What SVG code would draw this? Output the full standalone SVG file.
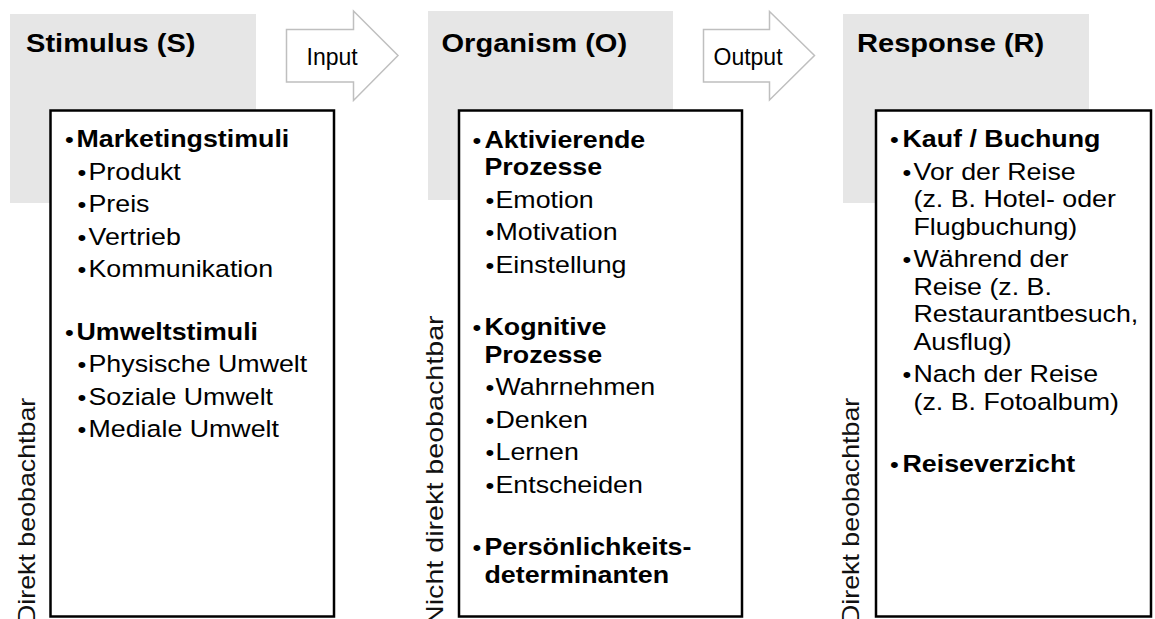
<svg xmlns="http://www.w3.org/2000/svg" width="1155" height="619" viewBox="0 0 1155 619">
<style>
text{font-family:"Liberation Sans",Arial,sans-serif;fill:#000}
.t{font-size:25.5px;font-weight:bold}
.b{font-size:23.5px;font-weight:bold}
.r{font-size:23.5px}
.p{font-size:22px}
.a{font-size:23px}
.v{font-size:23.5px;fill:#111}
.gray{fill:#e6e6e6}
.box{fill:#fff;stroke:#000;stroke-width:2.5}
.arrow{fill:#fff;stroke:#bfbfbf;stroke-width:1.5}
</style>
<rect width="1155" height="619" fill="#fff"/>

<g id="connectors">
  <g id="input-arrow">
    <polygon class="arrow" points="286.5,29.5 353.5,29.5 353.5,11 398,55.5 353.5,100.5 353.5,82 286.5,82"/>
    <text class="a" x="306.5" y="65">Input</text>
  </g>
  <g id="output-arrow">
    <polygon class="arrow" points="703.5,29.5 769.5,29.5 769.5,11.5 814.5,55.5 769.5,100 769.5,82 703.5,82"/>
    <text class="a" x="713.5" y="65">Output</text>
  </g>
</g>

<g id="stimulus">
  <rect class="gray" x="10" y="14" width="246" height="189"/>
  <text class="t" transform="matrix(1.14 0 0 1 26 52)">Stimulus (S)</text>
  <rect class="box" x="50.5" y="110.5" width="283.5" height="506"/>
  <text class="v" transform="translate(35 624) rotate(-90) scale(1.14 1)">Direkt beobachtbar</text>
  <g>
    <text class="p" transform="matrix(1.14 0 0 1 65 147)">•</text>
    <text class="b" transform="matrix(1.14 0 0 1 76.5 147)">Marketingstimuli</text>
    <text class="p" transform="matrix(1.14 0 0 1 77.5 179.5)">•</text>
    <text class="r" transform="matrix(1.14 0 0 1 88.5 179.5)">Produkt</text>
    <text class="p" transform="matrix(1.14 0 0 1 77.5 212)">•</text>
    <text class="r" transform="matrix(1.14 0 0 1 88.5 212)">Preis</text>
    <text class="p" transform="matrix(1.14 0 0 1 77.5 244.5)">•</text>
    <text class="r" transform="matrix(1.14 0 0 1 88.5 244.5)">Vertrieb</text>
    <text class="p" transform="matrix(1.14 0 0 1 77.5 277)">•</text>
    <text class="r" transform="matrix(1.14 0 0 1 88.5 277)">Kommunikation</text>
    <text class="p" transform="matrix(1.14 0 0 1 65 339.5)">•</text>
    <text class="b" transform="matrix(1.14 0 0 1 76.5 339.5)">Umweltstimuli</text>
    <text class="p" transform="matrix(1.14 0 0 1 77.5 372)">•</text>
    <text class="r" transform="matrix(1.14 0 0 1 88.5 372)">Physische Umwelt</text>
    <text class="p" transform="matrix(1.14 0 0 1 77.5 404.5)">•</text>
    <text class="r" transform="matrix(1.14 0 0 1 88.5 404.5)">Soziale Umwelt</text>
    <text class="p" transform="matrix(1.14 0 0 1 77.5 437)">•</text>
    <text class="r" transform="matrix(1.14 0 0 1 88.5 437)">Mediale Umwelt</text>
  </g>
</g>

<g id="organism">
  <rect class="gray" x="428" y="11" width="245" height="189"/>
  <text class="t" transform="matrix(1.14 0 0 1 441.5 52)">Organism (O)</text>
  <rect class="box" x="459" y="110.5" width="283" height="506"/>
  <text class="v" transform="translate(443 626) rotate(-90) scale(1.22 1)">Nicht direkt beobachtbar</text>
  <g>
    <text class="p" transform="matrix(1.14 0 0 1 472.5 147.5)">•</text>
    <text class="b" transform="matrix(1.14 0 0 1 484.5 147.5)">Aktivierende</text>
    <text class="b" transform="matrix(1.14 0 0 1 484.5 175)">Prozesse</text>
    <text class="p" transform="matrix(1.14 0 0 1 485.5 207.5)">•</text>
    <text class="r" transform="matrix(1.14 0 0 1 495.5 207.5)">Emotion</text>
    <text class="p" transform="matrix(1.14 0 0 1 485.5 240)">•</text>
    <text class="r" transform="matrix(1.14 0 0 1 495.5 240)">Motivation</text>
    <text class="p" transform="matrix(1.14 0 0 1 485.5 272.5)">•</text>
    <text class="r" transform="matrix(1.14 0 0 1 495.5 272.5)">Einstellung</text>
    <text class="p" transform="matrix(1.14 0 0 1 472.5 335)">•</text>
    <text class="b" transform="matrix(1.14 0 0 1 484.5 335)">Kognitive</text>
    <text class="b" transform="matrix(1.14 0 0 1 484.5 362.5)">Prozesse</text>
    <text class="p" transform="matrix(1.14 0 0 1 485.5 395)">•</text>
    <text class="r" transform="matrix(1.14 0 0 1 495.5 395)">Wahrnehmen</text>
    <text class="p" transform="matrix(1.14 0 0 1 485.5 427.5)">•</text>
    <text class="r" transform="matrix(1.14 0 0 1 495.5 427.5)">Denken</text>
    <text class="p" transform="matrix(1.14 0 0 1 485.5 460)">•</text>
    <text class="r" transform="matrix(1.14 0 0 1 495.5 460)">Lernen</text>
    <text class="p" transform="matrix(1.14 0 0 1 485.5 492.5)">•</text>
    <text class="r" transform="matrix(1.14 0 0 1 495.5 492.5)">Entscheiden</text>
    <text class="p" transform="matrix(1.14 0 0 1 472.5 555)">•</text>
    <text class="b" transform="matrix(1.14 0 0 1 484.5 555)">Persönlichkeits-</text>
    <text class="b" transform="matrix(1.14 0 0 1 484.5 583)">determinanten</text>
  </g>
</g>

<g id="response">
  <rect class="gray" x="843" y="14" width="246" height="189"/>
  <text class="t" transform="matrix(1.14 0 0 1 857 52)">Response (R)</text>
  <rect class="box" x="876" y="110.5" width="275" height="506"/>
  <text class="v" transform="translate(859 624) rotate(-90) scale(1.14 1)">Direkt beobachtbar</text>
  <g>
    <text class="p" transform="matrix(1.14 0 0 1 890 147)">•</text>
    <text class="b" transform="matrix(1.14 0 0 1 902.5 147)">Kauf / Buchung</text>
    <text class="p" transform="matrix(1.14 0 0 1 902.5 179.5)">•</text>
    <text class="r" transform="matrix(1.14 0 0 1 913.5 179.5)">Vor der Reise</text>
    <text class="r" transform="matrix(1.14 0 0 1 913.5 207)">(z. B. Hotel- oder</text>
    <text class="r" transform="matrix(1.14 0 0 1 913.5 234.5)">Flugbuchung)</text>
    <text class="p" transform="matrix(1.14 0 0 1 902.5 267)">•</text>
    <text class="r" transform="matrix(1.14 0 0 1 913.5 267)">Während der</text>
    <text class="r" transform="matrix(1.14 0 0 1 913.5 294.5)">Reise (z. B.</text>
    <text class="r" transform="matrix(1.14 0 0 1 913.5 322)">Restaurantbesuch,</text>
    <text class="r" transform="matrix(1.14 0 0 1 913.5 349.5)">Ausflug)</text>
    <text class="p" transform="matrix(1.14 0 0 1 902.5 382)">•</text>
    <text class="r" transform="matrix(1.14 0 0 1 913.5 382)">Nach der Reise</text>
    <text class="r" transform="matrix(1.14 0 0 1 913.5 409.5)">(z. B. Fotoalbum)</text>
    <text class="p" transform="matrix(1.14 0 0 1 890 472)">•</text>
    <text class="b" transform="matrix(1.14 0 0 1 902.5 472)">Reiseverzicht</text>
  </g>
</g>
</svg>
